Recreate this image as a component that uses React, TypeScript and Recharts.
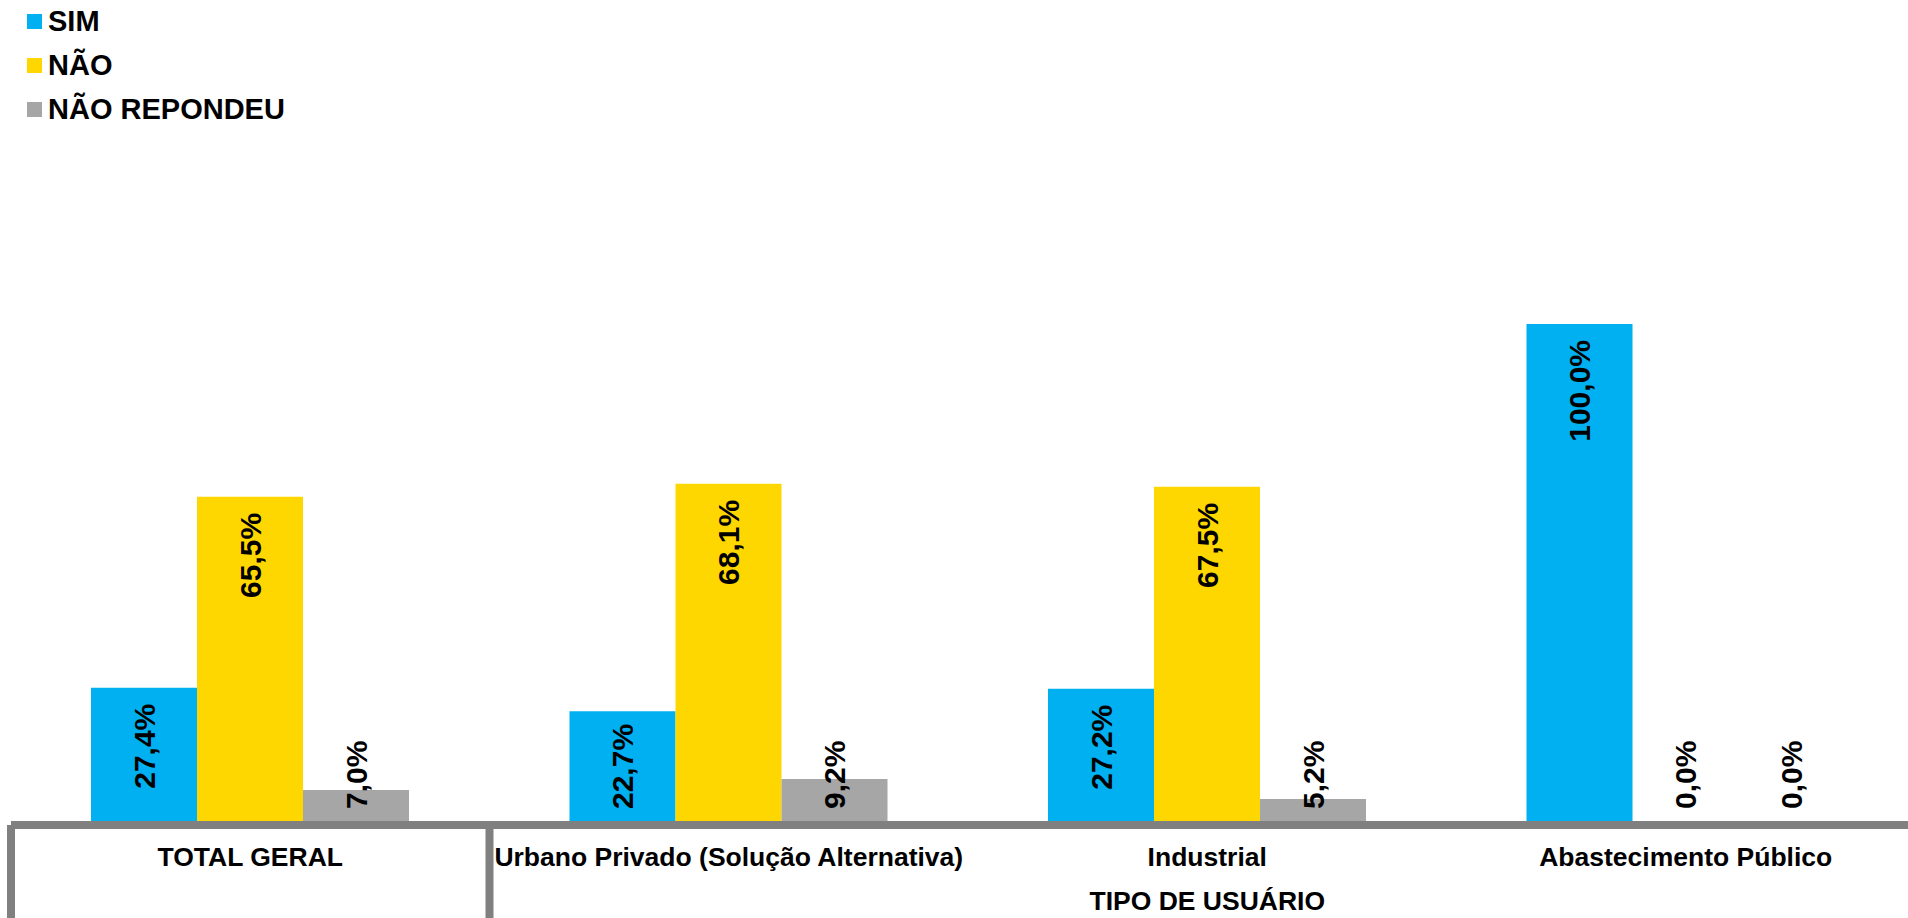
import { BarChart, Bar, XAxis, YAxis, Legend, LabelList } from 'recharts';

const categories = [
  'TOTAL GERAL',
  'Urbano Privado (Solução Alternativa)',
  'Industrial',
  'Abastecimento Público',
];
const simValues = [27.4, 22.7, 27.2, 100.0];
const naoValues = [65.5, 68.1, 67.5, 0.0];
const naoRespondeuValues = [7.0, 9.2, 5.2, 0.0];
const groupLabel = 'TIPO DE USUÁRIO';
const seriesOrder = ['sim', 'nao', 'nr'];

const data = categories.map((cat, i) => ({
  cat,
  sim: simValues[i],
  nao: naoValues[i],
  nr: naoRespondeuValues[i],
}));

const FONT = '"Liberation Sans", Arial, Helvetica, sans-serif';
const CHART_W = 1925;
const CHART_H = 918;
const MARGIN = { top: 324, right: 0, left: 11, bottom: 0 };
const AXIS_H = 93;
const AXIS_Y = CHART_H - AXIS_H;
const BAND = (CHART_W - MARGIN.left - MARGIN.right) / categories.length;
const AXIS_COLOR = '#808080';
const LABEL_FS = 30;

const fmt = (v: number) => v.toFixed(1).replace('.', ',') + '%';

// rough advance widths of Arial bold, used to decide where the label fits
const textLen = (s: string) =>
  [...s].reduce((sum, ch) => sum + (ch === ',' ? 0.278 : ch === '%' ? 0.889 : 0.556), 0) * LABEL_FS;

const BarLabel = (props: any) => {
  const vb = props.viewBox ?? props;
  const { x, width } = vb;
  const value = Number(props.value);
  // zero bars get a 1px min size; labels are measured from the axis line
  const base = AXIS_Y;
  const y = value === 0 ? base : vb.y;
  const text = fmt(value);
  const len = textLen(text);
  const top = y + 16;
  const limit = base - 16;
  const bx = x + width / 2 + LABEL_FS * 0.36;
  const common = {
    fontFamily: FONT,
    fontWeight: 'bold' as const,
    fontSize: LABEL_FS,
    fill: '#000',
  };
  if (top + len > limit) {
    return (
      <text transform={`translate(${bx},${limit}) rotate(-90)`} textAnchor="start" {...common}>
        {text}
      </text>
    );
  }
  return (
    <text transform={`translate(${bx},${top}) rotate(-90)`} textAnchor="end" {...common}>
      {text}
    </text>
  );
};

const CategoryTick = (props: any) => {
  const { x, payload } = props;
  const i = payload.index;
  const style = { fontFamily: FONT, fontWeight: 'bold' as const, fontSize: 26.5, fill: '#000' };
  return (
    <g>
      <text x={x} y={AXIS_Y + 41} textAnchor="middle" {...style}>
        {payload.value}
      </text>
      {i === 0 && (
        <>
          <line x1={x - BAND / 2} x2={x - BAND / 2} y1={AXIS_Y} y2={CHART_H} stroke={AXIS_COLOR} strokeWidth={8} />
          <line x1={x + BAND / 2} x2={x + BAND / 2} y1={AXIS_Y} y2={CHART_H} stroke={AXIS_COLOR} strokeWidth={8} />
        </>
      )}
      {i === 2 && (
        <text x={x} y={AXIS_Y + 85} textAnchor="middle" {...style}>
          {groupLabel}
        </text>
      )}
    </g>
  );
};

const renderLegend = (props: any) => {
  const items = [...(props.payload || [])].sort(
    (a: any, b: any) => seriesOrder.indexOf(a.dataKey) - seriesOrder.indexOf(b.dataKey)
  );
  return (
    <div style={{ fontFamily: FONT, fontWeight: 'bold', fontSize: 29, color: '#000' }}>
      {items.map((entry: any) => (
        <div key={entry.value} style={{ display: 'flex', alignItems: 'center', height: 43.7 }}>
          <span style={{ display: 'inline-block', width: 15, height: 15, background: entry.color, marginRight: 6 }} />
          <span style={{ lineHeight: 1 }}>{entry.value}</span>
        </div>
      ))}
    </div>
  );
};

export default function App() {
  return (
    <div
      style={{
        position: 'fixed',
        left: 0,
        top: 0,
        width: 1908,
        height: 918,
        overflow: 'hidden',
        background: '#fff',
      }}
    >
      <BarChart
        width={CHART_W}
        height={CHART_H}
        data={data}
        margin={MARGIN}
        barCategoryGap={80}
        barGap={0}
      >
        <YAxis hide domain={[0, 100]} />
        <Legend
          layout="vertical"
          align="center"
          verticalAlign="middle"
          content={renderLegend}
          wrapperStyle={{ top: 0, left: 27, width: 'auto' }}
        />
        <Bar dataKey="sim" name="SIM" fill="#00B0F0" minPointSize={1} isAnimationActive={false}>
          <LabelList dataKey="sim" content={BarLabel} />
        </Bar>
        <Bar dataKey="nao" name="NÃO" fill="#FFD700" minPointSize={1} isAnimationActive={false}>
          <LabelList dataKey="nao" content={BarLabel} />
        </Bar>
        <Bar dataKey="nr" name="NÃO REPONDEU" fill="#A6A6A6" minPointSize={1} isAnimationActive={false}>
          <LabelList dataKey="nr" content={BarLabel} />
        </Bar>
        <XAxis
          dataKey="cat"
          height={AXIS_H}
          interval={0}
          tickLine={false}
          axisLine={{ stroke: AXIS_COLOR, strokeWidth: 8 }}
          tick={<CategoryTick />}
        />
      </BarChart>
    </div>
  );
}
